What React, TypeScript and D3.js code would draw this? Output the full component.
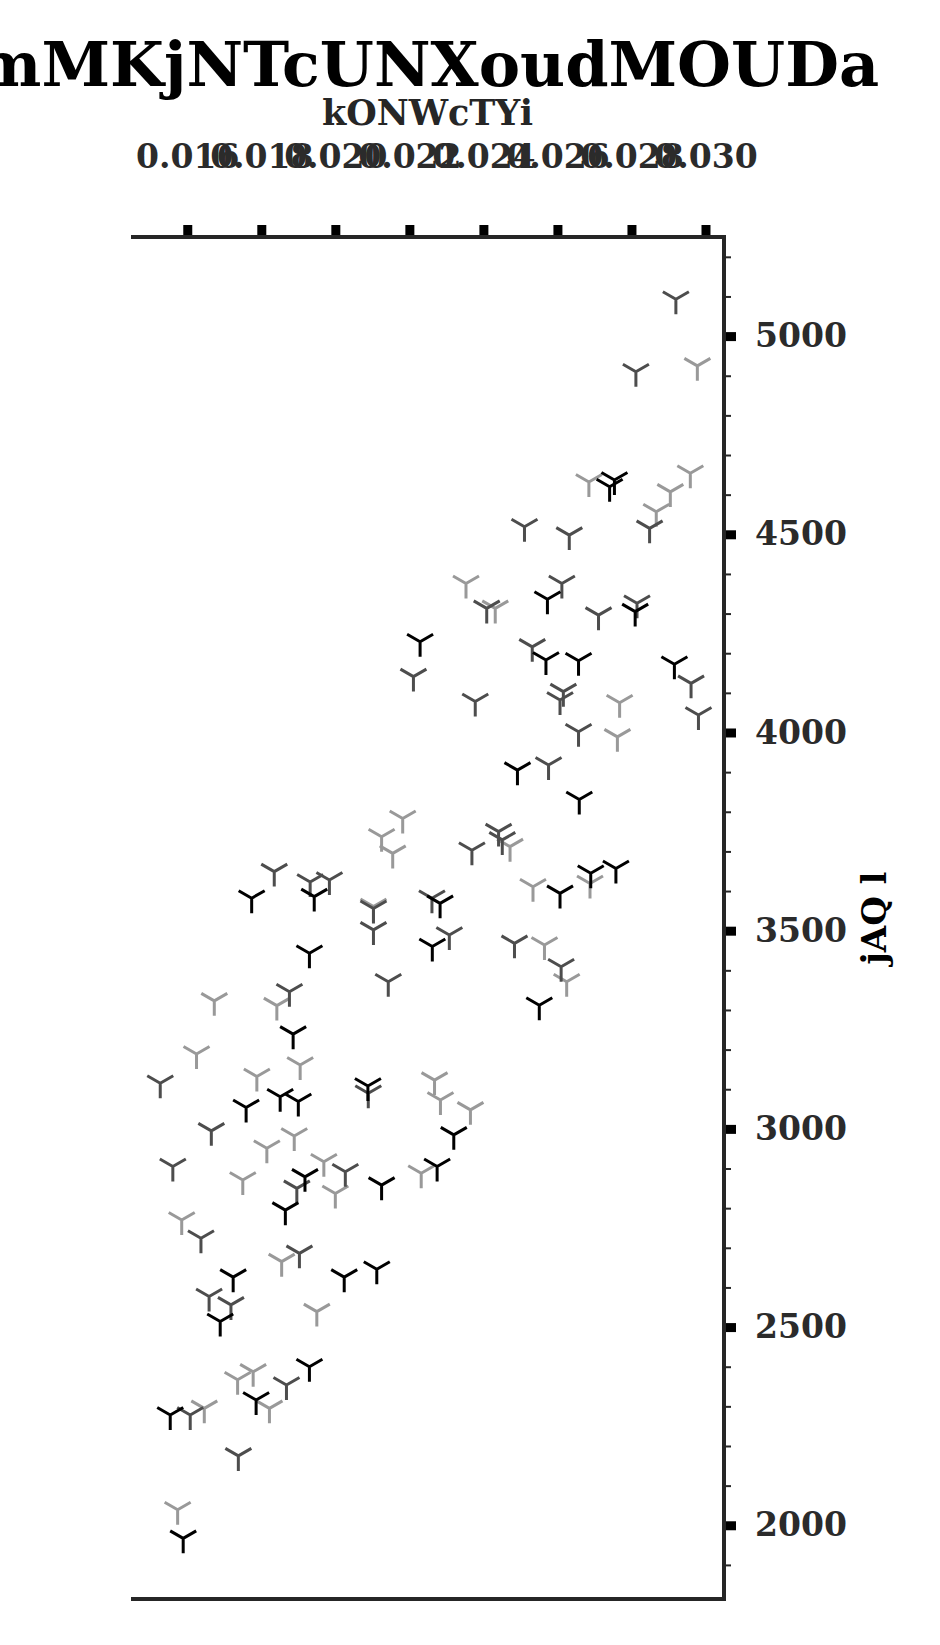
import { useEffect, useRef } from 'react'
import * as d3 from 'd3'

// valores (x, y) por série
const serieA: [number, number][] = [
  [0.02741, 4620], [0.02754, 4637], [0.02573, 4336], [0.0281, 4305], [0.02229, 4229],
  [0.02569, 4183], [0.02657, 4181], [0.02916, 4172], [0.02492, 3905], [0.02659, 3831],
  [0.02607, 3594], [0.0269, 3645], [0.02758, 3657], [0.02283, 3569], [0.02262, 3460],
  [0.02551, 3312], [0.01774, 3582], [0.01943, 3586], [0.0193, 3443], [0.01886, 3239],
  [0.01851, 3081], [0.019, 3069], [0.01759, 3054], [0.02088, 3108], [0.0232, 2985],
  [0.01918, 2879], [0.02125, 2858], [0.02275, 2905], [0.01865, 2795], [0.01724, 2626],
  [0.02024, 2626], [0.02112, 2646], [0.01689, 2514], [0.0193, 2400], [0.01786, 2316],
  [0.01554, 2278], [0.01589, 1967]
]

const serieB: [number, number][] = [
  [0.0292, 5093], [0.02812, 4910], [0.02849, 4515], [0.02511, 4519], [0.02632, 4498],
  [0.02612, 4376], [0.02409, 4313], [0.02711, 4296], [0.02815, 4326], [0.02532, 4216],
  [0.02961, 4124], [0.02211, 4141], [0.02378, 4078], [0.02616, 4103], [0.02607, 4082],
  [0.02981, 4044], [0.02657, 4002], [0.02576, 3918], [0.02441, 3750], [0.02451, 3729],
  [0.02369, 3703], [0.02261, 3582], [0.02103, 3556], [0.02103, 3502], [0.02308, 3489],
  [0.02484, 3468], [0.0261, 3409], [0.02143, 3371], [0.01835, 3649], [0.01932, 3623],
  [0.01984, 3628], [0.01876, 3346], [0.01527, 3115], [0.02089, 3090], [0.01665, 2995],
  [0.01561, 2905], [0.01896, 2850], [0.02027, 2892], [0.01637, 2724], [0.01903, 2686],
  [0.01659, 2577], [0.01718, 2556], [0.01868, 2354], [0.01608, 2278], [0.01738, 2175]
]

const serieC: [number, number][] = [
  [0.02978, 4925], [0.02685, 4632], [0.02959, 4654], [0.02905, 4607], [0.02867, 4557],
  [0.02353, 4376], [0.02432, 4313], [0.02768, 4075], [0.02762, 3989], [0.02182, 3783],
  [0.02125, 3737], [0.02155, 3695], [0.02472, 3712], [0.02534, 3611], [0.02688, 3619],
  [0.02103, 3561], [0.02565, 3464], [0.02625, 3371], [0.01673, 3323], [0.01842, 3311],
  [0.01625, 3189], [0.01905, 3161], [0.01788, 3132], [0.02268, 3123], [0.02284, 3073],
  [0.02365, 3048], [0.01889, 2982], [0.01815, 2951], [0.0175, 2871], [0.01969, 2917],
  [0.02, 2837], [0.02232, 2888], [0.01585, 2770], [0.01855, 2665], [0.0195, 2539],
  [0.01736, 2367], [0.01778, 2387], [0.01822, 2295], [0.01646, 2295], [0.01574, 2039]
]

const xTicks = [0.016, 0.018, 0.02, 0.022, 0.024, 0.026, 0.028, 0.03]
const yTicks = [2000, 2500, 3000, 3500, 4000, 4500, 5000]
const yMinor = [1900, 2100, 2200, 2300, 2400, 2600, 2700, 2800, 2900, 3100, 3200, 3300, 3400,
  3600, 3700, 3800, 3900, 4100, 4200, 4300, 4400, 4600, 4700, 4800, 4900, 5100, 5200]

const titulo = 'mMKjNTcUNXoudMOUDa'
const xLabel = 'kONWcTYi'
const yLabel = 'jAQ l'

const FONT = "'DejaVu Serif', serif"

export default function App() {
  const svgRef = useRef<SVGSVGElement>(null)

  useEffect(() => {
    const width = 940
    const height = 1645
    const left = 131, right = 724, top = 237, bottom = 1599

    const svg = d3.select(svgRef.current)
    svg.selectAll('*').remove()
    svg.attr('width', width).attr('height', height)

    const x = d3.scaleLinear().domain([0.01448, 0.0305]).range([left, right])
    const y = d3.scaleLinear().domain([1814, 5250]).range([bottom, top])

    // eixo x no topo
    const gx = svg.append('g')
      .attr('transform', `translate(0,${top})`)
      .call(d3.axisTop(x).tickValues(xTicks).tickFormat(d3.format('.3f')).tickSize(12).tickPadding(57))
    gx.select('.domain').remove()
    gx.selectAll('line').attr('stroke', '#000').attr('stroke-width', 9)
    gx.selectAll('text')
      .attr('fill', '#2b2b2b').attr('font-family', FONT).attr('font-size', 33).attr('font-weight', 'bold')

    // eixo y à direita: menores e maiores
    const gyMinor = svg.append('g')
      .attr('transform', `translate(${right},0)`)
      .call(d3.axisRight(y).tickValues(yMinor).tickSize(7).tickFormat(() => ''))
    gyMinor.select('.domain').remove()
    gyMinor.selectAll('line').attr('stroke', '#262626').attr('stroke-width', 2)

    const gy = svg.append('g')
      .attr('transform', `translate(${right},0)`)
      .call(d3.axisRight(y).tickValues(yTicks).tickFormat(d3.format('d')).tickSize(12).tickPadding(19))
    gy.select('.domain').remove()
    gy.selectAll('line').attr('stroke', '#000').attr('stroke-width', 9)
    gy.selectAll('text')
      .attr('fill', '#2b2b2b').attr('font-family', FONT).attr('font-size', 33).attr('font-weight', 'bold')

    // moldura (topo, direita, base)
    svg.append('path')
      .attr('d', `M${left},${top} H${right} V${bottom} H${left}`)
      .attr('fill', 'none')
      .attr('stroke', '#262626')
      .attr('stroke-width', 4)

    // marcador tri_down
    const tri = 'M0,0 L0,15 M0,0 L-13,-7.5 M0,0 L13,-7.5'
    const series = [
      { data: serieC, cor: '#999999' },
      { data: serieB, cor: '#4d4d4d' },
      { data: serieA, cor: '#000000' }
    ]
    series.forEach(s => {
      svg.append('g')
        .selectAll('path')
        .data(s.data)
        .enter()
        .append('path')
        .attr('d', tri)
        .attr('transform', d => `translate(${x(d[0])},${y(d[1])})`)
        .attr('fill', 'none')
        .attr('stroke', s.cor)
        .attr('stroke-width', 3)
    })

    const cx = (left + right) / 2

    svg.append('text')
      .attr('x', cx).attr('y', 86)
      .attr('text-anchor', 'middle')
      .attr('font-family', FONT).attr('font-size', 62).attr('font-weight', 'bold')
      .attr('fill', '#000')
      .text(titulo)

    svg.append('text')
      .attr('x', cx).attr('y', 125)
      .attr('text-anchor', 'middle')
      .attr('font-family', FONT).attr('font-size', 35).attr('font-weight', 'bold')
      .attr('fill', '#262626')
      .text(xLabel)

    svg.append('text')
      .attr('transform', `translate(886,${(top + bottom) / 2}) rotate(-90)`)
      .attr('text-anchor', 'middle')
      .attr('font-family', FONT).attr('font-size', 34).attr('font-weight', 'bold')
      .attr('fill', '#000')
      .text(yLabel)
  }, [])

  return (
    <div style={{ position: 'absolute', left: 0, top: 0 }}>
      <svg ref={svgRef} style={{ display: 'block' }}></svg>
    </div>
  )
}
